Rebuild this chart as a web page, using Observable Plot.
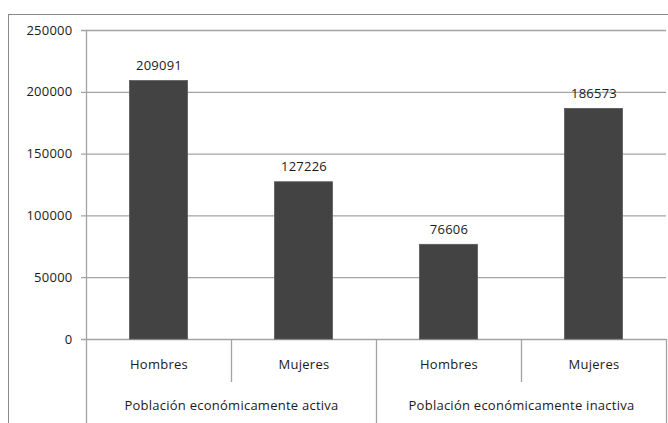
<!DOCTYPE html>
<html>
<head>
<meta charset="utf-8">
<script src="https://cdn.jsdelivr.net/npm/d3@7"></script>
<script src="https://cdn.jsdelivr.net/npm/@observablehq/plot@0.6"></script>
<style>
  html, body { margin: 0; padding: 0; background: #fff; overflow: hidden; }
  #wrap { position: relative; width: 668px; height: 423px; }
  #frame { position: absolute; left: 8px; top: 14px; width: 700px; height: 500px; border: 1px solid #8a8a8a; box-sizing: border-box; }
  #chart { position: absolute; left: 0; top: 0; }
  #chart text { letter-spacing: 0.25px; }
</style>
</head>
<body>
<div id="wrap"><div id="frame"></div><div id="chart"></div></div>
<script>
const sexes = ["Hombres", "Mujeres", "Hombres", "Mujeres"];
const groups = ["Población económicamente activa", "Población económicamente inactiva"];
const values = [209091, 127226, 76606, 186573];
const yTicks = [0, 50000, 100000, 150000, 200000, 250000];

const rows = values.map((v, i) => ({i, sex: sexes[i], value: v}));
const perGroup = sexes.length / groups.length;
const shortSeps = d3.range(1, sexes.length).filter(k => k % perGroup !== 0);
const longSeps = d3.range(perGroup, sexes.length + 1, perGroup);

const gridColor = "#a3a3a3";

const chart = Plot.plot({
  width: 668,
  height: 423,
  marginLeft: 86,
  marginRight: 2,
  marginTop: 30,
  marginBottom: 84,
  style: {fontSize: "13px", fontFamily: "'Open Sans', sans-serif", color: "#1a1a1a", background: "transparent"},
  x: {domain: [0, sexes.length], axis: null},
  y: {domain: [0, 250000], ticks: yTicks, tickSize: 0, tickPadding: 14, tickFormat: d => String(d), label: null},
  marks: [
    Plot.ruleY(yTicks, {y: d => d, x1: () => 0, x2: () => sexes.length, insetLeft: -5, stroke: gridColor, strokeWidth: 1.3}),
    Plot.ruleX([0], {x: d => d, y1: () => 250000, y2: () => 0, insetBottom: -84, stroke: gridColor, strokeWidth: 1.3}),
    Plot.ruleX(shortSeps, {x: d => d, y1: () => 0, y2: () => 0, insetBottom: -43, stroke: gridColor, strokeWidth: 1.3}),
    Plot.ruleX(longSeps, {x: d => d, y1: () => 0, y2: () => 0, insetBottom: -84, stroke: gridColor, strokeWidth: 1.3}),
    Plot.rectY(rows, {x1: d => d.i + 0.3, x2: d => d.i + 0.7, y: "value", fill: "#434343", stroke: "#5a5a5a", strokeWidth: 0.8}),
    Plot.text(rows, {x: d => d.i + 0.5, y: "value", text: d => String(d.value), dy: -15, fill: "#1a1a1a"}),
    Plot.text(rows, {x: d => d.i + 0.5, y: () => 0, text: "sex", dy: 25, fill: "#1a1a1a"}),
    Plot.text(groups, {x: (d, j) => j * perGroup + perGroup / 2, y: () => 0, text: d => d, dy: 66, fill: "#1a1a1a"})
  ]
});
document.getElementById("chart").appendChild(chart);
</script>
</body>
</html>
